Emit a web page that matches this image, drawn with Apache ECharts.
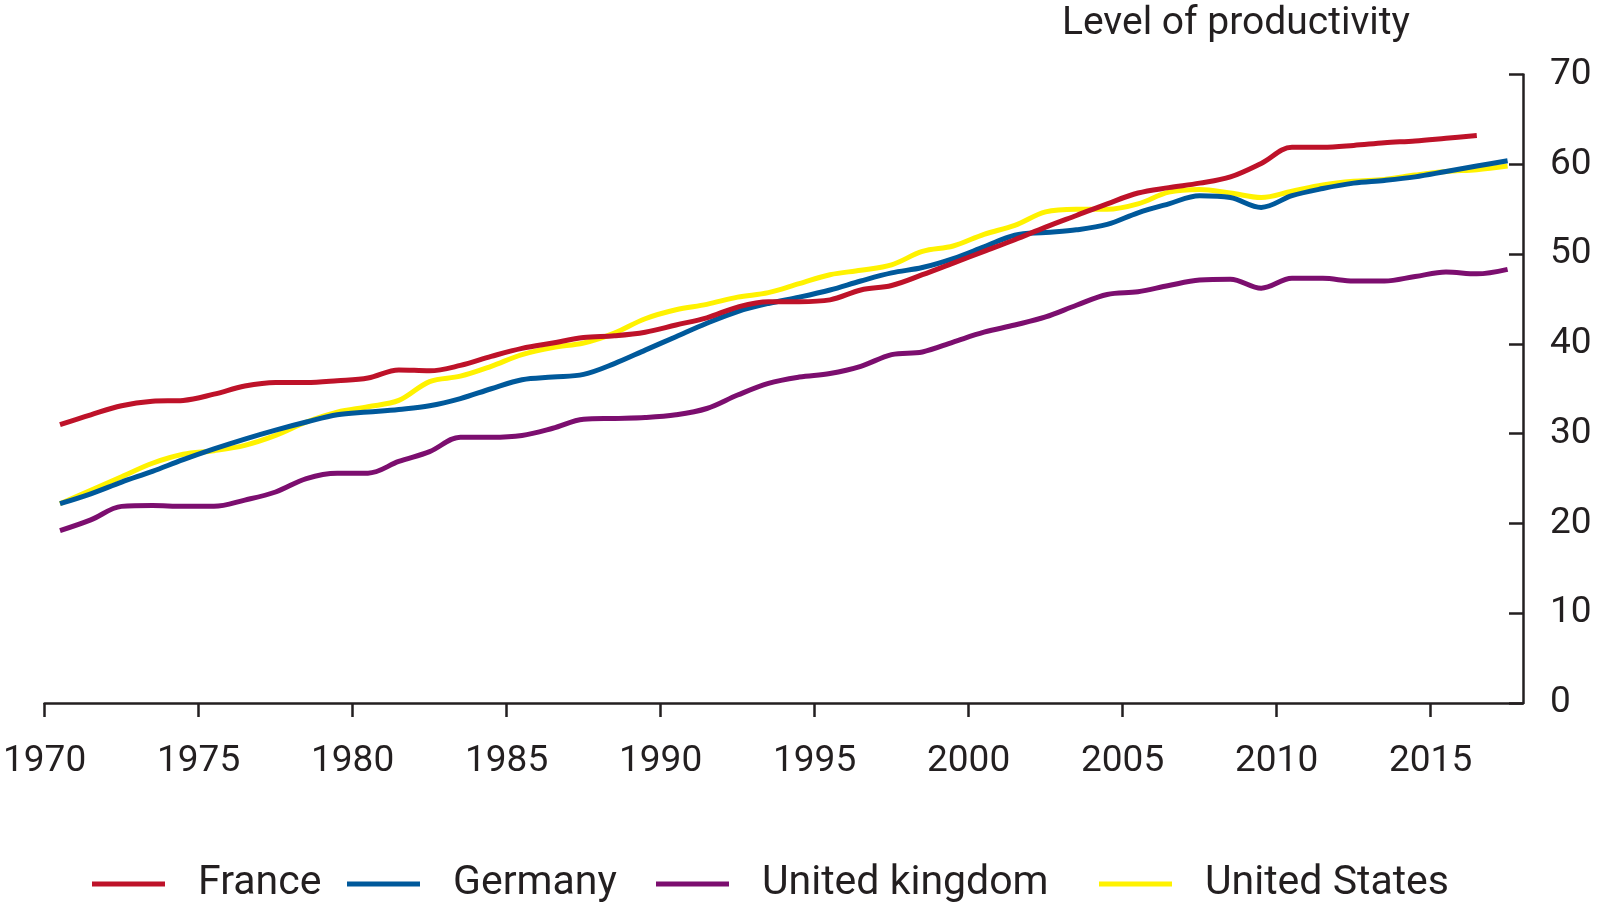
<!DOCTYPE html>
<html>
<head>
<meta charset="utf-8">
<script src="https://cdn.jsdelivr.net/npm/echarts@6/dist/echarts.min.js"></script>
<style>
html,body{margin:0;padding:0;background:#fff;}
#chart{width:1600px;height:912px;}
</style>
</head>
<body>
<div id="chart"></div>
<script>
// Annual values (plotted at mid-year)
const years = [1970,1971,1972,1973,1974,1975,1976,1977,1978,1979,1980,1981,1982,1983,1984,1985,1986,1987,1988,1989,1990,1991,1992,1993,1994,1995,1996,1997,1998,1999,2000,2001,2002,2003,2004,2005,2006,2007,2008,2009,2010,2011,2012,2013,2014,2015,2016,2017];
const france = [31.0,32.1,33.1,33.6,33.7,34.4,35.3,35.7,35.7,35.9,36.2,37.1,37.0,37.6,38.6,39.5,40.1,40.7,40.9,41.3,42.1,42.9,44.1,44.7,44.7,44.9,46.0,46.5,47.7,49.0,50.3,51.6,53.0,54.3,55.6,56.8,57.4,57.9,58.6,60.1,61.9,61.9,62.1,62.4,62.6,62.9,63.2,null];
const germany = [22.2,23.3,24.6,25.8,27.1,28.3,29.4,30.4,31.3,32.1,32.4,32.7,33.1,33.9,35.0,36.0,36.3,36.6,37.8,39.3,40.8,42.3,43.6,44.5,45.2,46.0,47.0,47.9,48.5,49.5,50.8,52.1,52.4,52.7,53.3,54.6,55.6,56.5,56.3,55.2,56.5,57.3,57.9,58.2,58.6,59.2,59.8,60.4];
const unitedKingdom = [19.2,20.4,21.9,22.0,21.9,21.9,22.6,23.5,25.0,25.6,25.6,26.9,28.0,29.6,29.6,29.8,30.6,31.6,31.7,31.8,32.1,32.8,34.3,35.6,36.3,36.7,37.5,38.8,39.1,40.2,41.3,42.1,43.0,44.3,45.5,45.8,46.5,47.1,47.2,46.2,47.3,47.3,47.0,47.0,47.5,48.0,47.8,48.3];
const unitedStates = [22.2,23.7,25.2,26.7,27.7,28.1,28.7,29.8,31.3,32.4,33.0,33.7,35.8,36.4,37.5,38.8,39.6,40.1,41.2,42.8,43.8,44.4,45.2,45.7,46.7,47.7,48.2,48.8,50.3,50.9,52.2,53.2,54.7,55.0,55.0,55.6,56.9,57.2,56.8,56.3,57.0,57.7,58.1,58.3,58.8,59.2,59.4,59.8];
const xTicks = [1970,1975,1980,1985,1990,1995,2000,2005,2010,2015];
const yTicks = [0,10,20,30,40,50,60,70];
const seriesNames = ['France','Germany','United kingdom','United States'];
const colors = {'France':'#be1229','Germany':'#00599b','United kingdom':'#7c0e6f','United States':'#fff200'};
const yTitle = 'Level of productivity';

const FONT = 'Roboto';
const TXT = '#231f20';

function toPairs(vals){
  return years.map((y,i)=> vals[i]==null ? null : [y+0.5, vals[i]]).filter(p=>p!==null);
}
function mk(name, vals){
  return {
    name: name, type:'line', data: toPairs(vals), smooth:0.35, symbol:'none',
    lineStyle:{color:colors[name], width:5, cap:'butt'},
    itemStyle:{color:colors[name]}, emphasis:{disabled:true}
  };
}
const legendLeft = [92, 347, 656, 1099];
function mkLegend(name, i){
  return {
    data:[name], left: legendLeft[i], top: 862, padding:0,
    icon:'rect', itemWidth:73, itemHeight:5, selectedMode:false,
    textStyle:{fontFamily:FONT, fontSize:41, lineHeight:44, color:TXT, padding:[0,0,0,28]}
  };
}

const chart = echarts.init(document.getElementById('chart'), null, {renderer:'canvas'});
chart.setOption({
  animation:false,
  backgroundColor:'#ffffff',
  title:{
    text: yTitle, right: 185, top: 0,
    textStyle:{fontFamily:FONT, fontSize:39, fontWeight:'normal', color:TXT}
  },
  grid:{left:41, right:77, top:74.5, bottom:209},
  legend: seriesNames.map(mkLegend),
  xAxis:{
    type:'value', min:1970, max:2018, interval:5,
    splitLine:{show:false},
    axisLine:{show:true, onZero:false, lineStyle:{color:TXT, width:2.5}},
    axisTick:{show:true, length:14, lineStyle:{color:TXT, width:2.5}, customValues: xTicks},
    axisLabel:{fontFamily:FONT, fontSize:37, color:TXT, margin:40, customValues: xTicks, formatter: v=>String(v)}
  },
  yAxis:{
    type:'value', position:'right', min:0, max:70, interval:10,
    splitLine:{show:false},
    axisLine:{show:true, lineStyle:{color:TXT, width:2.5}},
    axisTick:{show:true, inside:true, length:14, lineStyle:{color:TXT, width:2.5}, customValues: yTicks},
    axisLabel:{fontFamily:FONT, fontSize:37, color:TXT, margin:27, customValues: yTicks}
  },
  series:[
    mk('United States', unitedStates),
    mk('United kingdom', unitedKingdom),
    mk('Germany', germany),
    mk('France', france)
  ]
});
</script>
</body>
</html>
